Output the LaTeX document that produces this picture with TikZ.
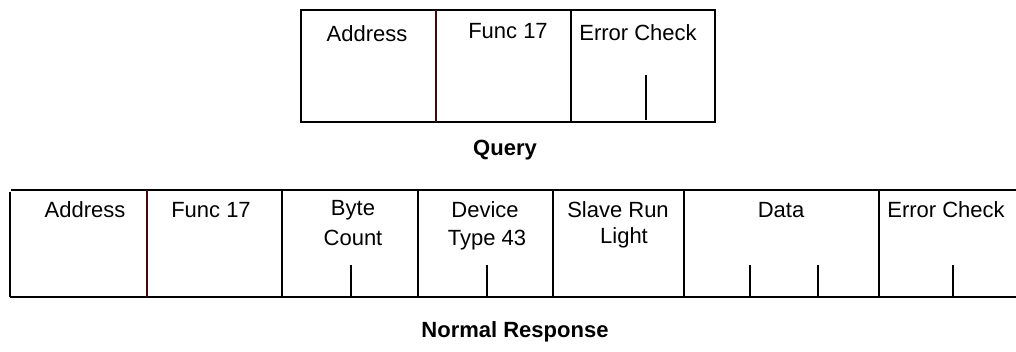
\documentclass[tikz,border=0pt]{standalone}
\usepackage{fontspec}
\setmainfont{Liberation Sans}
\definecolor{divred}{RGB}{70,8,8}
\begin{document}
\begin{tikzpicture}[x=1pt,y=-1pt,
  frame/.style={line width=1.4pt,black},
  tick/.style={line width=1.3pt,black},
  lbl/.style={font=\fontsize{22}{26}\selectfont,inner sep=0pt,anchor=center},
  ttl/.style={font=\fontsize{22}{26}\selectfont\bfseries,inner sep=0pt,anchor=center}]
\useasboundingbox (0,0) rectangle (1016,352);
% Query frame
\draw[frame] (301,10) rectangle (715,122);
\draw[line width=1.4pt,divred] (436,10) -- (436,122);
\draw[frame] (571,10) -- (571,122);
\draw[tick] (646,75) -- (646,120);
\node[lbl] (qaddr) at (367,34) {Address};
\node[lbl] (qfunc) at (508,31) {Func 17};
\node[lbl] (qerr) at (638,33) {Error Check};
\node[ttl] (query) at (505,150) {Query};
% Response frame
\draw[frame] (11,190) -- (1016,190);
\draw[frame] (10,297) -- (1016,297);
\draw[frame] (10,192) -- (10,297);
\draw[line width=1.4pt,divred] (147,190) -- (147,297);
\foreach \x in {282,418,553,684,879} \draw[frame] (\x,190) -- (\x,297);
\foreach \x in {351,487,750,818,953} \draw[tick] (\x,265) -- (\x,297);
\node[lbl] (raddr) at (85,210) {Address};
\node[lbl] (rfunc) at (211,210) {Func 17};
\node[lbl] (rbyte1) at (353,210) {Byte};
\node[lbl] (rbyte2) at (353,238) {Count};
\node[lbl] (rdev1) at (485,210) {Device};
\node[lbl] (rdev2) at (487,240) {Type 43};
\node[lbl] (rslv1) at (618,210) {Slave Run};
\node[lbl] (rslv2) at (624,238) {Light};
\node[lbl] (rdata) at (781,210) {Data};
\node[lbl] (rerr) at (946,210) {Error Check};
\node[ttl] (resp) at (515,332) {Normal Response};
\end{tikzpicture}
\end{document}
